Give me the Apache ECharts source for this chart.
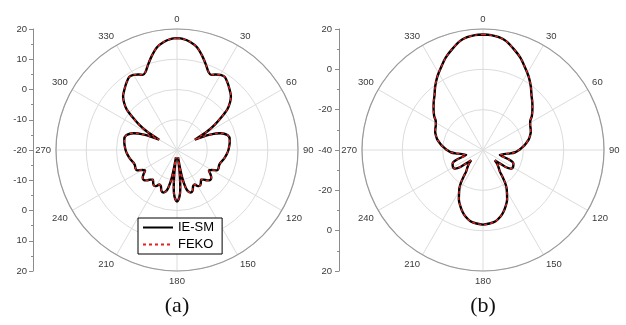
<!DOCTYPE html>
<html>
<head>
<meta charset="utf-8">
<script src="https://cdn.jsdelivr.net/npm/echarts@6/dist/echarts.min.js"></script>
<style>html,body{margin:0;padding:0;background:#fff}#c{width:626px;height:325px}</style>
</head>
<body>
<div id="c"></div>
<script>
// ---------- tick labels ----------
const angleTicks = ['0','30','60','90','120','150','180','210','240','270','300','330'];
const radialTicksA = ['20','10','0','-10','-20','-10','0','10','20'];
const radialTicksB = ['20','0','-20','-40','-20','0','20'];
const captions = ['(a)', '(b)'];
const seriesNames = ['IE-SM', 'FEKO'];

// ---------- chart (a): angle (deg) and gain (dB) ----------
const anglesA = [0,3,7,11,15,19,22,24.5,27,30,33,37,41,45,48,51,54,56,58,59,60,61,63,65,67,69,71,74,78,82,86,90,94,98,102,106,110,114,117,120,123,126,129,132,135,138,141,144,147,150,153,156,159,162,165,167,169,170.5,172,173.5,175,177,180,
  183,185,186.5,188,189.5,191,193,195,198,201,204,207,210,213,216,219,222,225,228,231,234,237,240,243,246,250,254,258,262,266,270,274,278,282,286,289,291,293,295,297,299,300,301,302,304,306,309,312,315,319,323,327,330,333,335.5,338,341,345,349,353,357,360];
const ieSmA = [17.0,16.8,16.0,14.6,12.2,9.6,7.8,7.3,8.0,8.7,8.9,7.8,6.5,5.2,3.6,1.4,-2.3,-4.8,-7.8,-10.5,-13.2,-12,-10,-8.0,-6.0,-4.6,-3.5,-2.5,-2.2,-2.4,-2.7,-3.0,-3.4,-3.9,-4.4,-5.0,-5.2,-5.0,-5.2,-6.8,-7.4,-6.3,-5.4,-5.2,-5.8,-6.8,-7.4,-6.6,-6.0,-6.2,-7.2,-6.9,-5.6,-5.2,-5.8,-7.2,-10,-14,-17.5,-12,-7.5,-4.5,-3.0,
  -4.5,-7.5,-12,-17.5,-14,-10,-7.2,-5.8,-5.2,-5.6,-6.9,-7.2,-6.2,-6.0,-6.6,-7.4,-6.8,-5.8,-5.2,-5.4,-6.3,-7.4,-6.8,-5.2,-5.0,-5.2,-5.0,-4.4,-3.9,-3.4,-3.0,-2.7,-2.4,-2.2,-2.5,-3.5,-4.6,-6.0,-8.0,-10,-12,-13.2,-10.5,-7.8,-4.8,-2.3,1.4,3.6,5.2,6.5,7.8,8.9,8.7,8.0,7.3,7.8,9.6,12.2,14.6,16.0,16.8,17.0];
const fekoA = ieSmA;

// ---------- chart (b) ----------
const anglesB = [0,4,8,12,17,22,27,32,37,42,46,50,55,59,62,65,69,73,77,82,85,88,91,94,97,100,103,106,110,114,118,121,124,127,129,131,134,138,142,144,146,148,151,154,158,162,165,170,175,180,
  185,190,195,198,202,206,209,212,214,216,218,222,226,229,231,233,236,239,242,246,250,254,257,260,263,266,269,272,275,278,283,287,291,295,298,301,305,310,314,318,323,328,333,338,343,348,352,356,360];
const ieSmB = [17.3,17.1,16.5,15.2,12.3,9.4,5.9,2.8,-0.6,-4.0,-6.0,-8.0,-10.4,-12.7,-13.5,-14.0,-14.6,-15.6,-16.7,-18.7,-19.9,-21.3,-22.6,-24,-26.3,-28.9,-30,-31.3,-26.5,-23.5,-23.0,-22.9,-23.5,-26,-30.0,-32.2,-30.5,-28.5,-26.4,-23.5,-20.5,-18,-15.5,-12.7,-10,-7.5,-6.0,-4.1,-3.4,-3.0,
  -3.4,-4.1,-6.0,-7.5,-10,-12.7,-15.5,-18,-20.5,-23.5,-26.4,-28.5,-30.5,-32.2,-30.0,-26,-23.5,-22.9,-23.0,-23.5,-26.5,-31.3,-30,-28.9,-26.3,-24,-22.6,-21.3,-19.9,-18.7,-16.7,-15.6,-14.6,-14.0,-13.5,-12.7,-10.4,-8.0,-6.0,-4.0,-0.6,2.8,5.9,9.4,12.3,15.2,16.5,17.1,17.3];
const fekoB = ieSmB;

// ---------- build ----------
const chart = echarts.init(document.getElementById('c'), null, {renderer: 'canvas'});
const gray = '#8c8c8c';
const light = '#dcdcdc';
const labelColor = '#3a3a3a';
const sans = 'Liberation Sans, Arial, sans-serif';
const R = 121;
const CY = 150;
const centers = [[177, CY], [483, CY]];
const colors = ['#000000', '#e3211e'];
const tickFont = 9.5;

function angleAxis(i) {
  return {
    polarIndex: i, type: 'value', min: 0, max: 360, interval: 30,
    startAngle: 90, clockwise: true,
    axisLine: {lineStyle: {color: '#9a9a9a', width: 1.2}},
    axisTick: {show: false},
    axisLabel: {color: labelColor, fontSize: tickFont, fontFamily: sans, margin: 5,
      formatter: (v, idx) => (angleTicks[idx] !== undefined ? angleTicks[idx] : '')},
    splitLine: {show: true, lineStyle: {color: light, width: 1}}
  };
}
function radiusAxis(i, min, max, interval) {
  return {
    polarIndex: i, type: 'value', min: min, max: max, interval: interval,
    axisLine: {show: false}, axisTick: {show: false}, axisLabel: {show: false},
    splitLine: {show: true, lineStyle: {color: light, width: 1}}
  };
}
function yAxis(i, min, max, interval, ticks, margin) {
  return {
    gridIndex: i, type: 'value', min: min, max: max, interval: interval,
    axisLine: {show: true, lineStyle: {color: gray, width: 1}},
    axisTick: {show: true, length: 4, lineStyle: {color: gray}},
    minorTick: {show: true, splitNumber: 2, length: 2, lineStyle: {color: gray}},
    axisLabel: {color: labelColor, fontSize: tickFont, fontFamily: sans, margin: margin,
      formatter: (v, idx) => ticks[idx]},
    splitLine: {show: false}
  };
}
function pairs(angles, vals) { return angles.map((a, k) => [vals[k], a]); }
function lineSeries(name, idx, angles, vals, dashed) {
  return {
    type: 'line', name: name, coordinateSystem: 'polar', polarIndex: idx,
    data: pairs(angles, vals), symbol: 'none', showSymbol: false, smooth: 0.3,
    silent: true, animation: false,
    itemStyle: {color: dashed ? colors[1] : colors[0]},
    lineStyle: dashed ? {color: colors[1], width: 1.4, type: [3, 3]} : {color: colors[0], width: 2.4},
    z: dashed ? 4 : 3
  };
}

chart.setOption({
  animation: false,
  backgroundColor: '#fff',
  polar: [{center: centers[0], radius: R}, {center: centers[1], radius: R}],
  angleAxis: [angleAxis(0), angleAxis(1)],
  radiusAxis: [radiusAxis(0, -20, 20, 10), radiusAxis(1, -40, 20, 20)],
  grid: [
    {left: 33, top: CY - R, width: 10, height: 2 * R},
    {left: 339, top: CY - R, width: 10, height: 2 * R}
  ],
  xAxis: [{gridIndex: 0, type: 'value', show: false}, {gridIndex: 1, type: 'value', show: false}],
  yAxis: [yAxis(0, -40, 40, 10, radialTicksA, 6), yAxis(1, -60, 60, 20, radialTicksB, 7)],
  legend: {
    data: seriesNames, orient: 'vertical', left: 138, top: 218,
    itemWidth: 30, itemHeight: 10, itemGap: 4,
    itemStyle: {opacity: 0},
    borderColor: '#000', borderWidth: 1, borderRadius: 0, padding: [3, 8, 3, 4],
    backgroundColor: '#fff',
    textStyle: {fontSize: 13, color: '#000', fontFamily: sans}
  },
  series: [
    lineSeries(seriesNames[0], 0, anglesA, ieSmA, false),
    lineSeries(seriesNames[1], 0, anglesA, fekoA, true),
    lineSeries(seriesNames[0], 1, anglesB, ieSmB, false),
    lineSeries(seriesNames[1], 1, anglesB, fekoB, true)
  ],
  graphic: captions.map((t, i) => ({
    type: 'text', x: centers[i][0], y: 306,
    style: {text: t, fill: '#111', font: '22px "Liberation Serif", "Times New Roman", serif',
      textAlign: 'center', textVerticalAlign: 'middle'}
  }))
});
</script>
</body>
</html>
